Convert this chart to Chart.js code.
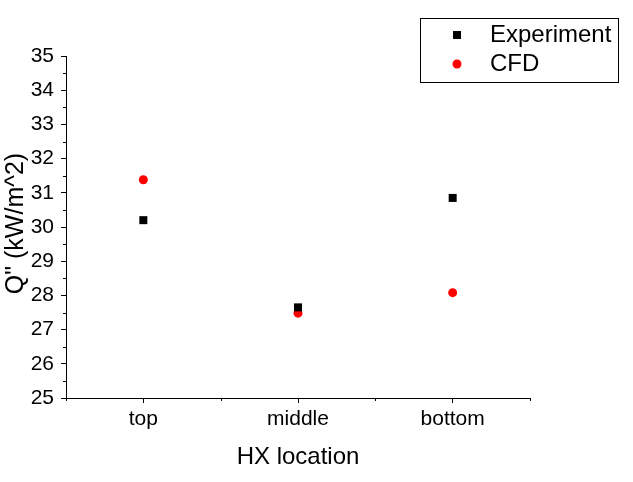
<!DOCTYPE html>
<html>
<head>
<meta charset="utf-8">
<script src="https://cdn.jsdelivr.net/npm/chart.js@4"></script>
<style>
  html, body { margin: 0; padding: 0; background: #fff; }
  #wrap { width: 633px; height: 482px; }
</style>
</head>
<body>
<div id="wrap"><canvas id="chart" width="633" height="482"></canvas></div>
<script>
// data
const locations = ['top', 'middle', 'bottom'];
const experiment = [30.2, 27.65, 30.85];
const cfd = [31.38, 27.48, 28.08];
const yTicks = [25, 26, 27, 28, 29, 30, 31, 32, 33, 34, 35];

const FONT = 'Arial, "Liberation Sans", sans-serif';

// minor ticks (half steps) and the legend box
const extras = {
    id: 'extras',
    afterDraw(chart) {
        const ctx = chart.ctx;
        const x = chart.scales.x, y = chart.scales.y;
        ctx.save();
        ctx.strokeStyle = '#000';
        ctx.lineWidth = 1;
        ctx.beginPath();
        for (let v = 25.5; v < 35; v += 1) {
            const py = Math.round(y.getPixelForValue(v)) + 0.5;
            ctx.moveTo(x.left, py);
            ctx.lineTo(x.left - 3, py);
        }
        [0.5, 1.5, 2.5, 3.5].forEach(v => {
            const px = Math.round(x.getPixelForValue(v)) + 0.5;
            ctx.moveTo(px, y.bottom);
            ctx.lineTo(px, y.bottom + 3);
        });
        ctx.stroke();

        // legend
        ctx.strokeRect(420.5, 18.5, 198, 64);
        ctx.font = '24px ' + FONT;
        ctx.fillStyle = '#000';
        ctx.textBaseline = 'middle';
        ctx.fillText('Experiment', 490, 35);
        ctx.fillText('CFD', 490, 64);
        ctx.fillRect(453, 31, 8, 8);
        ctx.fillStyle = '#ff0000';
        ctx.beginPath();
        ctx.arc(457, 64, 4.5, 0, Math.PI * 2);
        ctx.fill();
        ctx.restore();
    }
};

new Chart(document.getElementById('chart'), {
    type: 'scatter',
    data: {
        datasets: [{
            label: 'Experiment',
            data: experiment.map((v, i) => ({ x: i + 1, y: v })),
            pointStyle: 'rect',
            pointRadius: 5.66,
            backgroundColor: '#000',
            borderColor: '#000',
            borderWidth: 0
        }, {
            label: 'CFD',
            data: cfd.map((v, i) => ({ x: i + 1, y: v })),
            pointStyle: 'circle',
            pointRadius: 4.5,
            backgroundColor: '#ff0000',
            borderColor: '#ff0000',
            borderWidth: 0
        }]
    },
    options: {
        responsive: false,
        animation: false,
        layout: { padding: { top: 56, right: 103, left: 0, bottom: 0 } },
        plugins: { legend: { display: false }, tooltip: { enabled: false } },
        scales: {
            x: {
                type: 'linear',
                min: 0.5,
                max: 3.5,
                afterBuildTicks: scale => { scale.ticks = [1, 2, 3].map(v => ({ value: v })); },
                afterFit: scale => { scale.height = 84; },
                ticks: {
                    callback: v => locations[v - 1],
                    color: '#000',
                    font: { family: FONT, size: 21 },
                    padding: 4,
                    maxRotation: 0
                },
                grid: { drawOnChartArea: false, tickLength: 5, color: '#000' },
                border: { color: '#000', width: 1 },
                title: {
                    display: true,
                    text: 'HX location',
                    color: '#000',
                    font: { family: FONT, size: 24 },
                    padding: { top: 0, bottom: 10 }
                }
            },
            y: {
                min: 25,
                max: 35,
                afterBuildTicks: scale => { scale.ticks = yTicks.map(v => ({ value: v })); },
                afterFit: scale => { scale.width = 66; },
                ticks: {
                    color: '#000',
                    font: { family: FONT, size: 21 },
                    padding: 7
                },
                grid: { drawOnChartArea: false, tickLength: 5, color: '#000' },
                border: { color: '#000', width: 1 },
                title: {
                    display: true,
                    text: ' Q" (kW/m^2)',
                    color: '#000',
                    font: { family: FONT, size: 25 },
                    padding: { top: 1, bottom: 0 }
                }
            }
        }
    },
    plugins: [extras]
});
</script>
</body>
</html>
